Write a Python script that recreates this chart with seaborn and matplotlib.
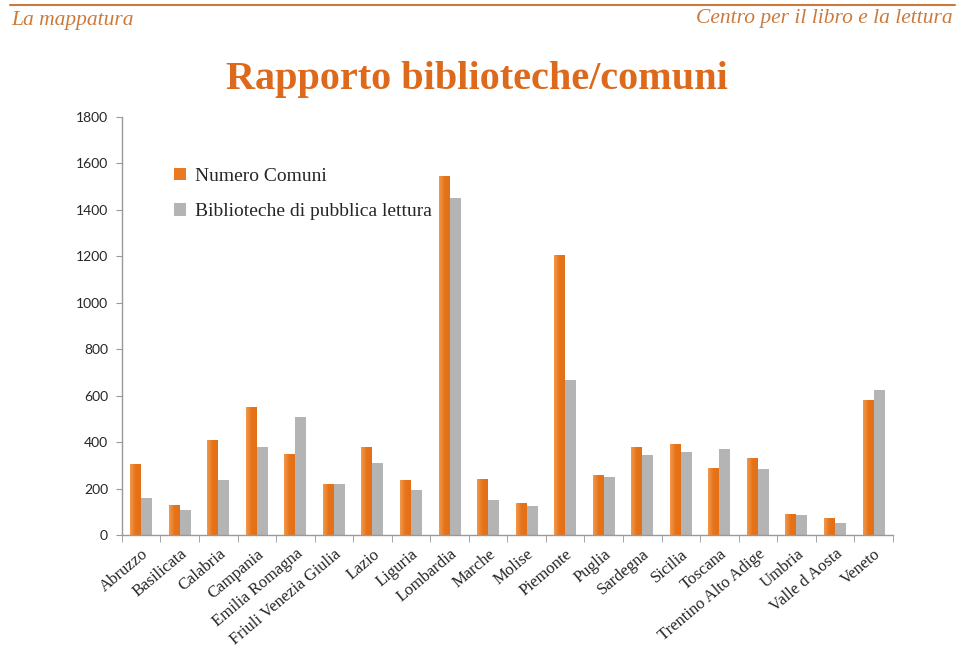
import pandas as pd
import matplotlib.pyplot as plt
import seaborn as sns
import numpy as np
from matplotlib.colors import LinearSegmentedColormap

# Dati
regioni = ['Abruzzo', 'Basilicata', 'Calabria', 'Campania', 'Emilia Romagna',
           'Friuli Venezia Giulia', 'Lazio', 'Liguria', 'Lombardia', 'Marche',
           'Molise', 'Piemonte', 'Puglia', 'Sardegna', 'Sicilia', 'Toscana',
           'Trentino Alto Adige', 'Umbria', 'Valle d Aosta', 'Veneto']
numero_comuni = [305, 131, 409, 551, 348, 218, 378, 235, 1546, 239,
                 136, 1206, 258, 377, 390, 287, 333, 92, 74, 581]
biblioteche = [159, 108, 237, 379, 508, 218, 310, 193, 1451, 151,
               125, 667, 250, 345, 357, 370, 286, 87, 52, 623]
serie = ['Numero Comuni', 'Biblioteche di pubblica lettura']

data = pd.DataFrame({
    'Regione': regioni * 2,
    'Valore': numero_comuni + biblioteche,
    'Serie': [serie[0]] * len(regioni) + [serie[1]] * len(regioni),
})

orange = '#E97A22'
gray = '#B4B4B4'
head_col = '#CC7A3C'
title_col = '#DD6A1C'

sns.set_style('white')
plt.rcParams['font.family'] = ['Liberation Serif', 'DejaVu Serif']

fig = plt.figure(figsize=(9.6, 6.5), dpi=100)
ax = fig.add_axes([0.127, 0.177, 0.803, 0.643])

sns.barplot(data=data, x='Regione', y='Valore', hue='Serie',
            palette=[orange, gray], width=0.57, ax=ax, legend=True,
            saturation=1, linewidth=0)

ax.set_ylim(0, 1800)
ax.set_xlim(-0.5, len(regioni) - 0.5)

# sfumatura sulle barre arancioni
cmap = LinearSegmentedColormap.from_list('arancio', ['#F29A4E', '#E6731A', '#E47016'])
grad = np.linspace(0, 1, 64).reshape(1, -1)
for p in ax.patches:
    if p.get_height() > 0 and np.allclose(p.get_facecolor()[:3], plt.matplotlib.colors.to_rgb(orange)):
        x0, y0 = p.get_x(), p.get_y()
        im = ax.imshow(grad, extent=[x0, x0 + p.get_width(), y0, y0 + p.get_height()],
                       aspect='auto', cmap=cmap, zorder=p.get_zorder() + 0.1)
        im.set_clip_path(p)
ax.set_aspect('auto')
ax.set_ylim(0, 1800)
ax.set_xlim(-0.5, len(regioni) - 0.5)

ax.set_xlabel('')
ax.set_ylabel('')
ax.set_yticks(range(0, 1801, 200))
ax.set_yticklabels([str(v) for v in range(0, 1801, 200)], family=['Lato', 'DejaVu Sans'], fontsize=10)

ax.set_xticks(range(len(regioni)))
ax.set_xticklabels(regioni, rotation=40, ha='right', rotation_mode='anchor', fontsize=12)
ax.tick_params(axis='x', length=0, pad=8)
ax.tick_params(axis='y', length=4, color='#999999', left=True, pad=6)
# tacche tra le categorie
ax.set_xticks(np.arange(-0.5, len(regioni) + 0.5, 1), minor=True)
ax.tick_params(axis='x', which='minor', length=5, color='#999999', bottom=True)

for s in ['top', 'right']:
    ax.spines[s].set_visible(False)
for s in ['left', 'bottom']:
    ax.spines[s].set_color('#999999')
    ax.spines[s].set_linewidth(1)

leg = ax.legend(loc='upper left', bbox_to_anchor=(0.045, 0.92), frameon=False,
                fontsize=14, handlelength=0.6, handleheight=0.6,
                handletextpad=0.5, labelspacing=0.95)

# intestazione
fig.add_artist(plt.Line2D([0.01, 0.995], [0.992, 0.992], color=head_col, lw=1.5))
fig.text(0.012, 0.968, 'La mappatura', color=head_col, fontsize=15.5, style='italic', va='center')
fig.text(0.992, 0.972, 'Centro per il libro e la lettura', color=head_col, fontsize=15.5,
         style='italic', va='center', ha='right')
fig.text(0.497, 0.878, 'Rapporto biblioteche/comuni', color=title_col, fontsize=29,
         fontweight='bold', ha='center', va='center')

plt.savefig('out.png', dpi=100)
